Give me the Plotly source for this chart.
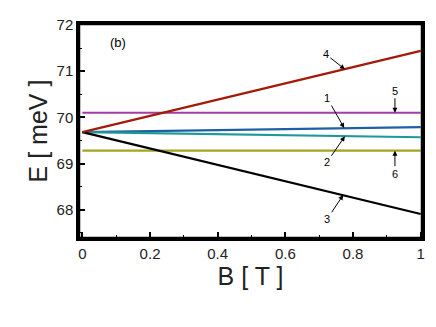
import plotly.graph_objects as go

B = [0.0, 1.0]
E1 = [69.68, 69.79]
E2 = [69.68, 69.57]
E3 = [69.68, 67.91]
E4 = [69.68, 71.44]
E5 = [70.10, 70.10]
E6 = [69.28, 69.28]

series = [
    ("5", E5, "#a53ca5"),
    ("6", E6, "#a3a31e"),
    ("1", E1, "#1f5fa3"),
    ("2", E2, "#1e9898"),
    ("3", E3, "#000000"),
    ("4", E4, "#a31a08"),
]

labels = [
    ("4", 0.776, 71.04, -19, -15),
    ("1", 0.774, 69.77, -17, -30),
    ("5", 0.924, 70.10, 0, -22),
    ("2", 0.776, 69.59, -18, 26),
    ("6", 0.924, 69.28, 0, 23),
    ("3", 0.771, 68.32, -16, 24),
]

fig = go.Figure()
for name, ys, col in series:
    fig.add_trace(go.Scatter(x=B, y=ys, mode="lines", name=name,
                             line=dict(color=col, width=2.2), showlegend=False))

for t, x, y, ax, ay in labels:
    fig.add_annotation(x=x, y=y, text=t, showarrow=True, ax=ax, ay=ay,
                       arrowhead=2, arrowsize=1, arrowwidth=1, arrowcolor="black",
                       standoff=0, font=dict(size=11, color="black", family="Liberation Sans"))

fig.add_annotation(x=0.105, y=71.62, text="(b)", showarrow=False,
                   font=dict(size=13, color="black", family="Liberation Sans"))

fig.update_layout(
    width=428, height=319,
    margin=dict(l=71, r=14, t=16, b=89, autoexpand=False),
    paper_bgcolor="white", plot_bgcolor="white",
    font=dict(family="Liberation Sans", color="black"),
    shapes=[dict(type="rect", xref="paper", yref="paper", x0=0, x1=1, y0=0, y1=1,
                 line=dict(color="#000000", width=2.5), fillcolor="rgba(0,0,0,0)", layer="above")],
)
fig.update_xaxes(range=[-0.01, 1.004], showgrid=False, zeroline=False, automargin=False,
                 showline=True, linecolor="#000000", linewidth=2.5, mirror=True,
                 ticks="inside", ticklen=6, tickwidth=1.5, tickcolor="black",
                 tickvals=[0, 0.2, 0.4, 0.6, 0.8, 1], ticktext=["0", "0.2", "0.4", "0.6", "0.8", "1"],
                 minor=dict(ticks="inside", ticklen=3, tickwidth=1, tickcolor="black", dtick=0.1, tick0=0, tickmode="linear"),
                 tickfont=dict(size=15, color="#222"),
                 title=dict(text="B [ T ]", font=dict(size=25, color="#222"), standoff=4))
fig.update_yaxes(range=[67.39, 72.02], showgrid=False, zeroline=False, automargin=False,
                 showline=True, linecolor="#000000", linewidth=2.5, mirror=True,
                 ticks="inside", ticklen=6, tickwidth=1.5, tickcolor="black",
                 tickmode="linear", tick0=68, dtick=1,
                 minor=dict(ticks="inside", ticklen=3, tickwidth=1, tickcolor="black", dtick=0.5, tick0=68, tickmode="linear"),
                 tickfont=dict(size=15, color="#222"),
                 title=dict(text="E [ meV ]", font=dict(size=25, color="#222"), standoff=2))

fig.write_html("out.html")
